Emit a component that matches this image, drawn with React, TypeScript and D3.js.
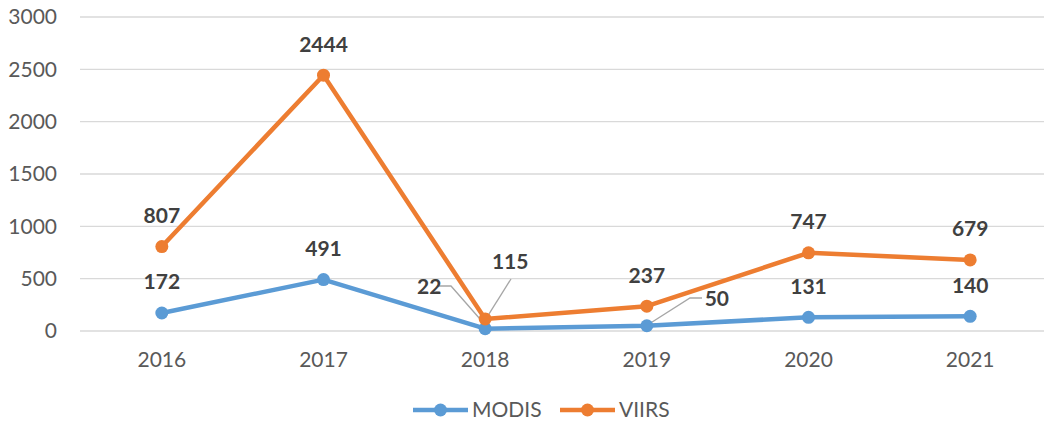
import React, { useEffect, useRef } from "react";
import * as d3 from "d3";

const years = ["2016", "2017", "2018", "2019", "2020", "2021"];
const modis = [172, 491, 22, 50, 131, 140];
const viirs = [807, 2444, 115, 237, 747, 679];
const yTicks = [0, 500, 1000, 1500, 2000, 2500, 3000];

const seriesNames = ["MODIS", "VIIRS"];
const seriesColors = ["#5B9BD5", "#ED7D31"];

const FONT = "Lato, 'Open Sans', sans-serif";

export default function App() {
  const ref = useRef<SVGSVGElement>(null);

  useEffect(() => {
    const width = 1044;
    const height = 428;
    const svg = d3.select(ref.current);
    svg.selectAll("*").remove();

    const x = d3.scaleBand().domain(years).range([81, 1051]);
    const y = d3.scaleLinear().domain([0, 3000]).range([331, 17]);
    const cx = (yr: string) => (x(yr) as number) + x.bandwidth() / 2;

    // gridlines
    svg.append("g").selectAll("line").data(yTicks).join("line")
      .attr("x1", 80).attr("x2", width).attr("y1", d => y(d)).attr("y2", d => y(d))
      .attr("stroke", "#D9D9D9").attr("stroke-width", 1.3);

    // y tick labels
    svg.append("g").selectAll("text").data(yTicks).join("text")
      .attr("x", 57).attr("y", d => y(d)).attr("dy", "0.35em").attr("text-anchor", "end")
      .style("font-family", FONT).style("font-size", "21px").attr("fill", "#595959")
      .text(d => d);

    // x tick labels
    svg.append("g").selectAll("text").data(years).join("text")
      .attr("x", d => cx(d)).attr("y", 360).attr("dy", "0.35em").attr("text-anchor", "middle")
      .style("font-family", FONT).style("font-size", "21px").attr("fill", "#595959")
      .text(d => d);

    const all = [modis, viirs];
    const line = d3.line<number>().x((d, i) => cx(years[i])).y(d => y(d));

    // leader lines (drawn under series)
    const leaders = svg.append("g").attr("fill", "none").attr("stroke", "#A6A6A6").attr("stroke-width", 1.3);
    leaders.append("polyline").attr("points", `437,286 451,286 ${cx("2018") - 1},${y(modis[2]) - 5}`);
    leaders.append("polyline").attr("points", `511,279 ${cx("2018") + 2},${y(viirs[2]) - 2}`);
    leaders.append("polyline").attr("points", `702,298 690,298 ${cx("2019") + 1},${y(modis[3]) - 1}`);

    all.forEach((vals, s) => {
      const g = svg.append("g");
      g.append("path").datum(vals).attr("d", line).attr("fill", "none")
        .attr("stroke", seriesColors[s]).attr("stroke-width", 4.5).attr("stroke-linejoin", "round");
      g.selectAll("circle").data(vals).join("circle")
        .attr("cx", (d, i) => cx(years[i])).attr("cy", d => y(d)).attr("r", 6.5)
        .attr("fill", seriesColors[s]);
    });

    // data labels: default above the point, some moved with leaders
    const offsets: Record<string, [number, number]> = {
      "0-2": [-56, -42],
      "1-2": [25, -57],
      "0-3": [70, -27],
    };
    all.forEach((vals, s) => {
      svg.append("g").selectAll("text").data(vals).join("text")
        .attr("x", (d, i) => cx(years[i]) + (offsets[`${s}-${i}`] ? offsets[`${s}-${i}`][0] : 0))
        .attr("y", (d, i) => y(d) + (offsets[`${s}-${i}`] ? offsets[`${s}-${i}`][1] : -31))
        .attr("dy", "0.35em").attr("text-anchor", "middle")
        .style("font-family", FONT).style("font-size", "21px").style("font-weight", "bold")
        .attr("fill", "#404040").text(d => d);
    });

    // legend
    const legendX = [413, 560];
    const lg = svg.append("g");
    seriesNames.forEach((name, s) => {
      const lx = legendX[s];
      lg.append("line").attr("x1", lx).attr("x2", lx + 55).attr("y1", 410).attr("y2", 410)
        .attr("stroke", seriesColors[s]).attr("stroke-width", 4.5);
      lg.append("circle").attr("cx", lx + 27.5).attr("cy", 410).attr("r", 6.5).attr("fill", seriesColors[s]);
      lg.append("text").attr("x", lx + 59).attr("y", 410).attr("dy", "0.35em")
        .style("font-family", FONT).style("font-size", "21px").attr("fill", "#595959").text(name);
    });

    svg.attr("width", width).attr("height", height);
  }, []);

  return (
    <svg ref={ref} width={1044} height={428}
      style={{ position: "absolute", left: 0, top: 0, background: "#fff" }} />
  );
}
